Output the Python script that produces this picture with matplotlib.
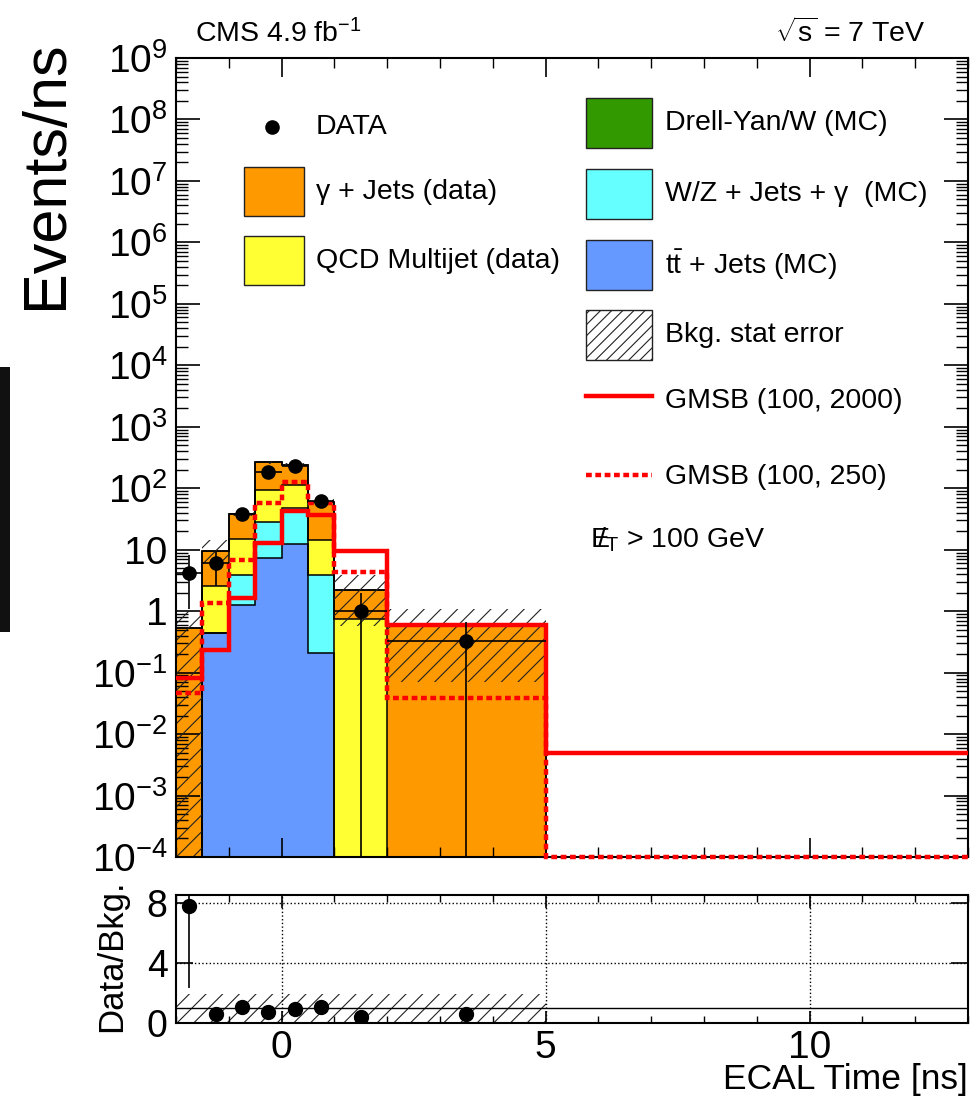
import numpy as np
import matplotlib
matplotlib.use('Agg')
import matplotlib.pyplot as plt
from matplotlib.patches import Rectangle
from matplotlib.lines import Line2D
from matplotlib.ticker import FixedLocator, FuncFormatter, LogLocator, MultipleLocator, NullFormatter

plt.rcParams['font.family'] = ['Liberation Sans', 'DejaVu Sans']
plt.rcParams['mathtext.fontset'] = 'custom'
plt.rcParams['mathtext.rm'] = 'Liberation Sans'
plt.rcParams['mathtext.it'] = 'Liberation Sans:italic'
plt.rcParams['mathtext.bf'] = 'Liberation Sans:bold'
plt.rcParams['hatch.linewidth'] = 0.8

# ---- data ----
edges = [-2, -1.5, -1, -0.5, 0, 0.5, 1, 2, 5, 13]
centers = [-1.75, -1.25, -0.75, -0.25, 0.25, 0.75, 1.5, 3.5]
half_widths = [0.25, 0.25, 0.25, 0.25, 0.25, 0.25, 0.5, 1.5]

# stacked backgrounds (bottom -> top), events/ns per bin
ttbar = [0, 0.44, 1.24, 7.3, 12.5, 0.21, 0, 0, 0]
wz_gamma = [0, 0, 2.66, 20.6, 35.5, 3.6, 0, 0, 0]
qcd = [0, 2.16, 11.2, 64, 66, 10.6, 0.74, 0, 0]
gamma_jets = [0.53, 7.1, 22.9, 171, 128, 45.6, 1.5, 0.57, 0]
drell_yan = [0, 0, 0, 0, 0, 0, 0, 0, 0]
bkg_err = [0.53, 4.8, 3.0, 15, 12, 6, 1.66, 0.5, 0]

gmsb_2000 = [0.082, 0.237, 1.64, 12.8, 42, 37, 9.4, 0.59, 0.0049]
gmsb_250 = [0.047, 1.36, 6.7, 57, 126, 57, 4.3, 0.038, 0.0001]

data = [4.2, 6.1, 38, 183, 226, 61, 1.0, 0.333]
data_err_lo = [3.1, 3.5, 8.7, 19, 21, 11, 1.0, 0.333]
data_err_hi = [4.0, 3.5, 8.7, 19, 21, 11, 1.0, 0.333]

ratio = [7.8, 0.6, 1.07, 0.73, 0.93, 1.09, 0.42, 0.6]
ratio_err = [5.5, 0.3, 0.2, 0.1, 0.1, 0.2, 0.4, 0.4]
ratio_band_hi = [1.95, 1.95, 1.9, 1.9, 1.9, 1.9, 1.9, 1.9]

c_orange = '#ff9900'
c_yellow = '#ffff33'
c_cyan = '#66ffff'
c_blue = '#6699ff'
c_green = '#339900'

FLOOR = 1e-6

fig = plt.figure(figsize=(9.71, 10.98), dpi=100)
W, H = 971.0, 1098.0
ax = fig.add_axes([176 / W, (H - 857) / H, 792 / W, 799 / H])
ax2 = fig.add_axes([176 / W, (H - 1023) / H, 792 / W, 128 / H])

# ---- stack ----
layers = [(ttbar, c_blue), (wz_gamma, c_cyan), (qcd, c_yellow),
          (gamma_jets, c_orange), (drell_yan, c_green)]
cum = np.cumsum([np.array(v, float) for v, c in layers], axis=0)
for i in reversed(range(len(layers))):
    vals = np.maximum(cum[i], FLOOR)
    ax.stairs(vals, edges, baseline=FLOOR, fill=True, color=layers[i][1], zorder=1)
    ax.stairs(vals, edges, baseline=FLOOR, color='black', lw=1.1, zorder=1.5)

total = cum[-1]
widths = np.diff(edges)
for i in range(len(centers)):
    lo = max(total[i] - bkg_err[i], FLOOR)
    hi = total[i] + bkg_err[i]
    ax.bar(edges[i], hi - lo, width=widths[i], bottom=lo, align='edge',
           facecolor='none', edgecolor='#222222', hatch='//', linewidth=0, zorder=2)

# ---- signal ----
ax.stairs(gmsb_2000, edges, baseline=None, color='red', lw=3.2, zorder=3)
ax.stairs(gmsb_250, edges, baseline=None, color='red', lw=3.2,
          linestyle=(0, (1.3, 0.8)), zorder=3, clip_on=False)

# ---- data ----
d = np.array(data)
ylo = d - np.maximum(d - np.array(data_err_lo), FLOOR)
ax.errorbar(centers, data, yerr=[ylo, data_err_hi], xerr=half_widths, fmt='o',
            color='black', ms=9.5, elinewidth=1.2, capsize=0, zorder=5)

ax.set_yscale('log')
ax.set_xlim(-2, 13)
ax.set_ylim(1e-4, 1e9)


def ylab(v, pos):
    e = int(round(np.log10(v)))
    if e == 0:
        return '1'
    if e == 1:
        return '10'
    return r'$10^{%d}$' % e


ax.yaxis.set_major_locator(FixedLocator([10.0 ** k for k in range(-4, 10)]))
ax.yaxis.set_major_formatter(FuncFormatter(ylab))
ax.yaxis.set_minor_locator(LogLocator(base=10, subs=np.arange(2, 10), numticks=100))
ax.yaxis.set_minor_formatter(NullFormatter())
ax.xaxis.set_major_locator(MultipleLocator(5))
ax.xaxis.set_minor_locator(MultipleLocator(1))
ax.tick_params(which='both', direction='in', top=True, right=True, labelbottom=False)
ax.tick_params(axis='y', which='major', length=17, width=1.2, labelsize=28, pad=6)
ax.tick_params(axis='y', which='minor', length=8.5, width=1.0)
ax.tick_params(axis='x', which='major', length=14, width=1.2)
ax.tick_params(axis='x', which='minor', length=7, width=1.0)
for s in ax.spines.values():
    s.set_linewidth(1.5)

# ---- legend (drawn by hand) ----
fs = 20.5
ax.plot([0.1212], [0.9136], 'o', color='black', ms=9.5, transform=ax.transAxes, clip_on=False)
ax.text(0.1768, 0.9136, 'DATA', transform=ax.transAxes, fontsize=fs, va='center')
left_boxes = [(0.8023, c_orange, u'\u03b3 + Jets (data)'),
              (0.7159, c_yellow, 'QCD Multijet (data)')]
for y0, col, lab in left_boxes:
    ax.add_patch(Rectangle((0.0859, y0), 0.0757, 0.0613, transform=ax.transAxes,
                           facecolor=col, edgecolor='#222222', lw=1.0, zorder=6))
    ax.text(0.1768, y0 + 0.0306, lab, transform=ax.transAxes, fontsize=fs, va='center')

right_boxes = [(0.8874, c_green, 'Drell-Yan/W (MC)', None),
               (0.7985, c_cyan, u'W/Z + Jets + \u03b3  (MC)', None),
               (0.7096, c_blue, r'$\mathrm{t\bar{t}}$ + Jets (MC)', None),
               (0.6220, 'none', 'Bkg. stat error', '///')]
for y0, col, lab, h in right_boxes:
    ax.add_patch(Rectangle((0.5177, y0), 0.0833, 0.0626, transform=ax.transAxes,
                           facecolor=col, edgecolor='#222222', lw=1.0, hatch=h, zorder=6))
    ax.text(0.6174, y0 + 0.0313, lab, transform=ax.transAxes, fontsize=fs, va='center')

ax.add_line(Line2D([0.5177, 0.6010], [0.5770, 0.5770], transform=ax.transAxes,
                   color='red', lw=3.2, zorder=6))
ax.text(0.6174, 0.5711, 'GMSB (100, 2000)', transform=ax.transAxes, fontsize=fs, va='center')
ax.add_line(Line2D([0.5177, 0.6010], [0.4781, 0.4781], transform=ax.transAxes,
                   color='red', lw=3.2, linestyle=(0, (1.3, 0.8)), zorder=6))
ax.text(0.6174, 0.4759, 'GMSB (100, 250)', transform=ax.transAxes, fontsize=fs, va='center')
ax.text(0.5227, 0.3967, r'$\mathrm{E}\!\!\!/_{\mathrm{T}}$ > 100 GeV', transform=ax.transAxes,
        fontsize=fs, va='center')

ax.text(0.024, 1.012, r'CMS 4.9 fb$^{\mathrm{-1}}$', transform=ax.transAxes, fontsize=fs,
        va='bottom', ha='left')
ax.text(0.946, 1.012, r'$\sqrt{\mathrm{s}}$ = 7 TeV', transform=ax.transAxes, fontsize=fs,
        va='bottom', ha='right')

# ---- ratio ----
for i in range(len(centers)):
    ax2.bar(edges[i], ratio_band_hi[i], width=widths[i], bottom=0, align='edge',
            facecolor='none', edgecolor='#222222', hatch='//', linewidth=0, zorder=1)
ax2.axhline(1, color='black', lw=1.0, zorder=2)
ax2.errorbar(centers, ratio, yerr=ratio_err, fmt='o', color='black', ms=10,
             elinewidth=1.2, capsize=0, zorder=5)
ax2.set_xlim(-2, 13)
ax2.set_ylim(0, 8.5)
ax2.yaxis.set_major_locator(FixedLocator([0, 4, 8]))
ax2.xaxis.set_major_locator(MultipleLocator(5))
ax2.xaxis.set_minor_locator(MultipleLocator(1))
ax2.grid(True, which='major', linestyle=':', color='black', lw=1.0)
ax2.tick_params(which='both', direction='in', top=True, right=True)
ax2.tick_params(axis='y', which='major', length=12, width=1.2, labelsize=27, pad=6)
ax2.tick_params(axis='x', which='major', length=9, width=1.2, labelsize=28, pad=5)
ax2.tick_params(axis='x', which='minor', length=5, width=1.0)
for s in ax2.spines.values():
    s.set_linewidth(1.5)

# ---- axis titles ----
fig.text(47 / W, (H - 40) / H, 'Events/ns', rotation=90, ha='center', va='top', fontsize=44)
fig.text(112 / W, (H - 956) / H, 'Data/Bkg.', rotation=90, ha='center', va='center', fontsize=25)
fig.text(968 / W, (H - 1080) / H, 'ECAL Time [ns]', ha='right', va='center', fontsize=25.5)

# dark strip at the left edge of the screenshot
fig.add_artist(Rectangle((0, (H - 632) / H), 10 / W, 265 / H, transform=fig.transFigure,
                         facecolor='#111111', edgecolor='none'))

fig.savefig('out.png', dpi=100)
